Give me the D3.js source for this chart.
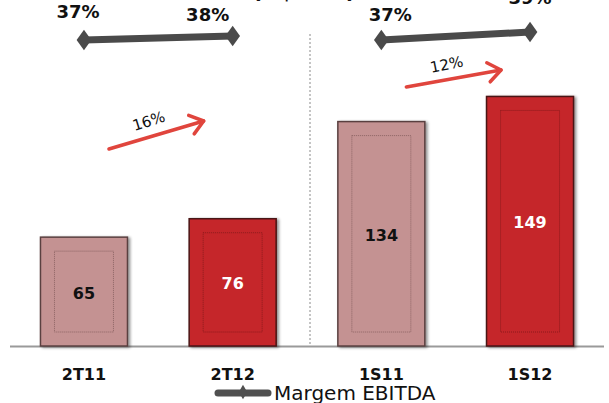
<!DOCTYPE html>
<meta charset="utf-8">
<head>
  <title>EBITDA</title>
</head>
<style>
body { margin: 0; background: #fff; }
svg { display: block; font-family: "DejaVu Sans", Verdana, sans-serif; }
.bar-label { font-weight: bold; font-size: 16px; text-anchor: middle; }
.cat-label { font-weight: bold; font-size: 16px; text-anchor: middle; fill: #111; }
.pct-label { font-weight: bold; font-size: 18px; text-anchor: middle; fill: #111; }
.margin-line { fill: none; stroke: #4a4a4a; stroke-width: 7px; }
.growth { fill: none; stroke: #e0443c; stroke-width: 3.5px; stroke-linecap: round; stroke-linejoin: round; }
</style>
<body>

<script src="https://d3js.org/d3.v7.min.js"></script>
<script>

// data
var periods = ["2T11", "2T12", "1S11", "1S12"];
var ebitda = [65, 76, 134, 149];
var margem = [37, 38, 37, 39];
var margemLabels = ["37%", "38%", "37%", "39%"];
var growthLabels = ["16%", "12%"];
var title = "(R$ MM)";
var legendLabel = "Margem EBITDA";

var width = 609, height = 403;
var baseline = 346;

var svg = d3.select("body").append("svg")
    .attr("width", width)
    .attr("height", height);

var defs = svg.append("defs");
var shadow = defs.append("filter").attr("id", "shadow")
    .attr("x", "-10%").attr("y", "-10%").attr("width", "130%").attr("height", "130%");
shadow.append("feGaussianBlur").attr("in", "SourceAlpha").attr("stdDeviation", 1.8);
shadow.append("feOffset").attr("dx", 2).attr("dy", 1).attr("result", "blur");
shadow.append("feComponentTransfer").append("feFuncA").attr("type", "linear").attr("slope", 0.45);
var merge = shadow.append("feMerge");
merge.append("feMergeNode");
merge.append("feMergeNode").attr("in", "SourceGraphic");

var soft = defs.append("filter").attr("id", "soft");
soft.append("feGaussianBlur").attr("stdDeviation", 0.7);

// scales
var x = d3.scaleBand().domain(periods).range([10, 604])
    .paddingInner(0.415).paddingOuter(0.205);
var y = d3.scaleLinear().domain([0, 206.6]).range([baseline, 0]);
var ym = d3.scaleLinear().domain([37, 39]).range([40, 32]);

function cx(d) { return x(d) + x.bandwidth() / 2; }

// title (mostly cut off at top)
svg.append("text")
    .attr("x", 304).attr("y", -2)
    .attr("text-anchor", "middle")
    .style("font-size", "22px").style("font-weight", "bold")
    .attr("fill", "#111")
    .text(title);

// baseline
svg.append("line")
    .attr("x1", 10).attr("x2", 604)
    .attr("y1", baseline + 0.5).attr("y2", baseline + 0.5)
    .style("stroke", "#9a9a9a").style("stroke-width", "2px");

// separator
var sepX = (x("2T12") + x.bandwidth() + x("1S11")) / 2 + 3;
svg.append("line")
    .attr("x1", sepX).attr("x2", sepX)
    .attr("y1", 34).attr("y2", baseline)
    .style("stroke", "#8a8a8a").style("stroke-width", "1px")
    .style("stroke-dasharray", "2,2");

// bars
var fills = ["#c49292", "#c5282c", "#c49292", "#c5282c"];
var borders = ["#5a4040", "#4a1414", "#5a4040", "#4a1414"];
var inner = ["#8d6464", "#8c1a1c", "#8d6464", "#8c1a1c"];

var bars = svg.selectAll(".bar").data(ebitda).enter().append("g").attr("class", "bar");

bars.append("rect")
    .attr("x", function(d, i) { return x(periods[i]); })
    .attr("y", function(d) { return y(d); })
    .attr("width", x.bandwidth())
    .attr("height", function(d) { return baseline - y(d); })
    .attr("fill", function(d, i) { return fills[i]; })
    .attr("stroke", function(d, i) { return borders[i]; })
    .attr("stroke-width", 1.5)
    .attr("filter", "url(#shadow)");

bars.append("rect")
    .attr("x", function(d, i) { return x(periods[i]) + 14; })
    .attr("y", function(d) { return y(d) + 14; })
    .attr("width", x.bandwidth() - 28)
    .attr("height", function(d) { return baseline - y(d) - 28; })
    .attr("fill", "none")
    .attr("stroke", function(d, i) { return inner[i]; })
    .attr("stroke-width", 1)
    .attr("stroke-dasharray", "1,1");

bars.append("text")
    .attr("class", "bar-label")
    .attr("x", function(d, i) { return cx(periods[i]); })
    .attr("y", function(d) { return (y(d) + baseline) / 2 + 7; })
    .attr("fill", function(d, i) { return i % 2 ? "#fff" : "#111"; })
    .text(function(d) { return d; });

// category labels
svg.selectAll(".cat-label").data(periods).enter().append("text")
    .attr("class", "cat-label")
    .attr("x", function(d) { return cx(d); })
    .attr("y", 380)
    .text(function(d) { return d; });

// margin lines (one per group)
var diamond = d3.symbol().type(d3.symbolDiamond).size(120);
[[0, 1], [2, 3]].forEach(function(pair) {
  var pts = pair.map(function(i) { return [cx(periods[i]), ym(margem[i])]; });
  svg.append("path")
      .attr("class", "margin-line")
      .attr("d", d3.line()(pts));
  pts.forEach(function(p) {
    svg.append("path")
        .attr("d", diamond)
        .attr("transform", "translate(" + p[0] + "," + p[1] + ") scale(1.25,1)")
        .attr("fill", "#4a4a4a");
  });
});

// margin labels
var labelDx = [-6, -25, 9, 0];
var labelDy = [-22, -15, -19, -28];
svg.selectAll(".pct-label").data(margem).enter().append("text")
    .attr("class", "pct-label")
    .attr("x", function(d, i) { return cx(periods[i]) + labelDx[i]; })
    .attr("y", function(d, i) { return ym(d) + labelDy[i]; })
    .text(function(d, i) { return margemLabels[i]; });

// growth arrows
var arrowY = [[149, 121], [87, 70]];
growthLabels.forEach(function(lbl, k) {
  var a = periods[k * 2], b = periods[k * 2 + 1];
  var x0 = cx(a) + 25, x1 = cx(b) - 29;
  var y0 = arrowY[k][0], y1 = arrowY[k][1];
  var ang = Math.atan2(y1 - y0, x1 - x0);
  var hl = 16, spread = 0.65;
  var h1 = [x1 - hl * Math.cos(ang - spread), y1 - hl * Math.sin(ang - spread)];
  var h2 = [x1 - hl * Math.cos(ang + spread), y1 - hl * Math.sin(ang + spread)];
  var g = svg.append("g").attr("filter", "url(#soft)");
  g.append("path").attr("class", "growth")
      .attr("d", d3.line()([[x0, y0], [x1, y1]]));
  g.append("path").attr("class", "growth")
      .attr("d", d3.line()([h1, [x1, y1], h2]));
  var mx = (x0 + x1) / 2 - 6, my = (y0 + y1) / 2 - 9;
  svg.append("text")
      .attr("transform", "translate(" + mx + "," + my + ") rotate(" + (ang * 180 / Math.PI - 1) + ")")
      .attr("text-anchor", "middle")
      .style("font-size", "15px")
      .attr("fill", "#111")
      .text(lbl);
});

// legend
var lg = svg.append("g").attr("transform", "translate(0,393)");
lg.append("line")
    .attr("x1", 218).attr("x2", 268).attr("y1", 0).attr("y2", 0)
    .style("stroke", "#505050").style("stroke-width", "7px").style("stroke-linecap", "round");
lg.append("path")
    .attr("d", d3.symbol().type(d3.symbolDiamond).size(60))
    .attr("transform", "translate(243,-1)")
    .attr("fill", "#505050");
lg.append("text")
    .attr("x", 274).attr("y", 7)
    .style("font-size", "20px")
    .attr("fill", "#111")
    .text(legendLabel);

</script>
</body>
